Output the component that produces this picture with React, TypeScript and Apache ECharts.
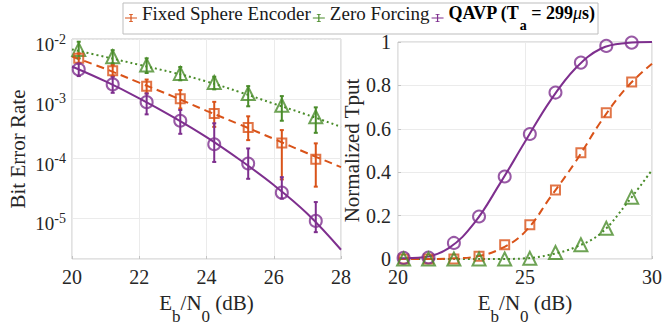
import React, { useEffect, useRef } from 'react';
import * as echarts from 'echarts';

const FONT = "'Liberation Serif', 'Times New Roman', serif";
const TXT = '#262626';
const C_FSE = '#D95319';
const C_ZF = '#4A8C2A';
const C_QAVP = '#7E2F8E';

const NAME_FSE = 'Fixed Sphere Encoder';
const NAME_ZF = 'Zero Forcing';
const NAME_QAVP = 'QAVP (Ta = 299μs)';

// ---- Left: Bit error rate ----
const berX = [20.2, 21.21, 22.22, 23.22, 24.23, 25.24, 26.24, 27.25];
const berZF = [6.7e-3, 5.06e-3, 3.66e-3, 2.66e-3, 1.88e-3, 1.23e-3, 7.8e-4, 5.0e-4];
const berZFLo = [4.75e-3, 3.9e-3, 2.7e-3, 2.04e-3, 1.44e-3, 7.5e-4, 4.3e-4, 2.7e-4];
const berZFHi = [9.0e-3, 6.5e-3, 4.75e-3, 3.4e-3, 2.34e-3, 1.63e-3, 1.11e-3, 7.2e-4];
const berFSE = [4.75e-3, 2.94e-3, 1.63e-3, 1.0e-3, 5.7e-4, 3.3e-4, 1.83e-4, 9.8e-5];
const berFSELo = [3.9e-3, 2.4e-3, 1.23e-3, 6.9e-4, 3.4e-4, 2.04e-4, 4.5e-5, 3.4e-5];
const berFSEHi = [5.75e-3, 3.67e-3, 2.1e-3, 1.4e-3, 8.9e-4, 5.1e-4, 3.0e-4, 1.8e-4];
const berQAVP = [3.1e-3, 1.74e-3, 8.8e-4, 4.3e-4, 1.74e-4, 8.3e-5, 2.7e-5, 9.1e-6];
const berQAVPLo = [2.4e-3, 1.26e-3, 5.5e-4, 2.6e-4, 8.8e-5, 4.6e-5, 2.15e-5, 5.9e-6];
const berQAVPHi = [3.9e-3, 2.34e-3, 1.23e-3, 6.5e-4, 3.9e-4, 1.48e-4, 4.9e-5, 1.88e-5];

const berFitX = [20, 21, 22, 23, 24, 25, 26, 27, 28];
const berFitZF = [6.7e-3, 5.0e-3, 3.7e-3, 2.75e-3, 1.95e-3, 1.29e-3, 8.3e-4, 5.4e-4, 3.4e-4];
const berFitFSE = [5.1e-3, 3.16e-3, 1.86e-3, 1.1e-3, 6.3e-4, 3.7e-4, 2.14e-4, 1.23e-4, 7.2e-5];
const berFitQAVP = [3.47e-3, 1.95e-3, 1.02e-3, 5.0e-4, 2.29e-4, 9.5e-5, 3.63e-5, 1.2e-5, 3.0e-6];

const berMin = 2.1e-6;
const berMax = 1e-2;

// ---- Right: normalized throughput ----
const tpX = [20.22, 21.2, 22.2, 23.19, 24.2, 25.19, 26.2, 27.2, 28.2, 29.2];
const tpQAVP = [0.005, 0.007, 0.074, 0.196, 0.38, 0.576, 0.767, 0.905, 0.982, 0.997];
const tpFSE = [0, 0, 0, 0.013, 0.066, 0.158, 0.318, 0.49, 0.674, 0.816];
const tpZF = [0, 0, 0, 0, 0, 0.003, 0.03, 0.066, 0.142, 0.285];

const tpFitX = [20, 21, 22, 23, 24, 25, 26, 27, 28, 29, 30];
const tpFitQAVP = [0.003, 0.008, 0.05, 0.165, 0.345, 0.54, 0.73, 0.88, 0.97, 0.995, 1.0];
const tpFitFSE = [0, 0, 0.002, 0.01, 0.045, 0.125, 0.285, 0.45, 0.635, 0.79, 0.9];
const tpFitZF = [0, 0, 0, 0, 0, 0.003, 0.02, 0.055, 0.12, 0.255, 0.41];

const zip = (xs: number[], ys: number[]) => xs.map((x, i) => [x, ys[i]]);
const zip3 = (xs: number[], a: number[], b: number[]) => xs.map((x, i) => [x, a[i], b[i]]);

const minorLogLines: number[] = [];
for (let e = -6; e <= -3; e++) {
  for (let k = 2; k <= 9; k++) {
    const v = k * Math.pow(10, e);
    if (v > berMin && v < berMax) minorLogLines.push(v);
  }
}

const ICON = 'path://M0,4.5H12V5.5H0Z M5.4,1H6.6V9H5.4Z M4,1H8V1.8H4Z M4,8.2H8V9H4Z';

function errorBar(color: string) {
  return (params: any, api: any) => {
    const x = api.value(0);
    const lo = api.value(1);
    const hi = api.value(2);
    const pLo = api.coord([x, lo]);
    const pHi = api.coord([x, hi]);
    const cap = 2;
    const style = { stroke: color, lineWidth: 2, fill: 'none' };
    return {
      type: 'group',
      children: [
        { type: 'line', shape: { x1: pLo[0], y1: pLo[1], x2: pHi[0], y2: pHi[1] }, style },
        { type: 'line', shape: { x1: pLo[0] - cap, y1: pLo[1], x2: pLo[0] + cap, y2: pLo[1] }, style },
        { type: 'line', shape: { x1: pHi[0] - cap, y1: pHi[1], x2: pHi[0] + cap, y2: pHi[1] }, style },
      ],
    };
  };
}

function buildOption(): any {
  const axisLineGray = '#c4c4c4';
  const gridGray = '#ebebeb';
  const numLabel = (margin: number) => ({
    margin,
    formatter: (v: number) => `{t|${v}}`,
    rich: { t: { fontSize: 20, fontFamily: FONT, color: TXT } },
  });
  const xName = '{m|E}{s|b}{m|/N}{s|0}{m| (dB)}';
  const xNameRich = {
    m: { fontSize: 21, lineHeight: 33, verticalAlign: 'top', fontFamily: FONT, color: TXT },
    s: { fontSize: 17, lineHeight: 17, verticalAlign: 'bottom', fontFamily: FONT, color: TXT },
  };
  const lineSeries = (name: string, xi: number, xs: number[], ys: number[], color: string, type: any, z: number) => ({
    type: 'line',
    name,
    xAxisIndex: xi,
    yAxisIndex: xi,
    data: zip(xs, ys),
    symbol: 'none',
    smooth: 0.4,
    itemStyle: { color },
    lineStyle: { color, width: 2, type },
    z,
    silent: true,
  });
  const markerSeries = (xi: number, xs: number[], ys: number[], color: string, symbol: string, size: any) => ({
    type: 'scatter',
    xAxisIndex: xi,
    yAxisIndex: xi,
    data: zip(xs, ys),
    symbol,
    symbolSize: size,
    itemStyle: { color: 'rgba(0,0,0,0)', borderColor: color, borderWidth: 2 },
    z: 6,
    silent: true,
  });
  const errSeries = (xs: number[], lo: number[], hi: number[], color: string) => ({
    type: 'custom',
    xAxisIndex: 0,
    yAxisIndex: 0,
    data: zip3(xs, lo, hi),
    encode: { x: 0, y: [1, 2] },
    renderItem: errorBar(color),
    itemStyle: { color },
    z: 5,
    silent: true,
  });

  return {
    animation: false,
    backgroundColor: '#ffffff',
    textStyle: { fontFamily: FONT },
    legend: {
      left: 123,
      top: 3,
      padding: [1, 3, 2, 2],
      itemGap: 2,
      itemWidth: 12,
      itemHeight: 10,
      borderColor: '#bdbdbd',
      borderWidth: 1,
      backgroundColor: '#ffffff',
      selectedMode: false,
      data: [
        { name: NAME_FSE, icon: ICON, itemStyle: { color: C_FSE } },
        { name: NAME_ZF, icon: ICON, itemStyle: { color: C_ZF } },
        { name: NAME_QAVP, icon: ICON, itemStyle: { color: C_QAVP } },
      ],
      formatter: (name: string) =>
        name === NAME_QAVP ? '{b|QAVP (T}{bs|a}{b| = 299}{i|μ}{b|s)}' : `{m|${name}}`,
      textStyle: {
        fontFamily: FONT,
        fontSize: 19,
        color: '#1a1a1a',
        rich: {
          m: { fontSize: 19, lineHeight: 28, verticalAlign: 'top', fontFamily: FONT, color: '#1a1a1a' },
          b: { fontSize: 18, lineHeight: 28, verticalAlign: 'top', fontFamily: FONT, fontWeight: 'bold', color: '#000' },
          bs: { fontSize: 14, lineHeight: 10, verticalAlign: 'bottom', fontFamily: FONT, fontWeight: 'bold', color: '#000' },
          i: { fontSize: 18, lineHeight: 28, verticalAlign: 'top', fontFamily: FONT, fontStyle: 'italic', color: '#000' },
        },
      },
    },
    grid: [
      { left: 72, top: 39, width: 269, height: 220, show: true, borderColor: axisLineGray, borderWidth: 1, backgroundColor: 'rgba(0,0,0,0)' },
      { left: 398, top: 42, width: 258, height: 217, show: true, borderColor: axisLineGray, borderWidth: 1, backgroundColor: 'rgba(0,0,0,0)' },
    ],
    xAxis: [
      {
        type: 'value', gridIndex: 0, min: 20, max: 28, interval: 2,
        axisLine: { show: false },
        axisTick: { show: true, inside: true, length: 3, lineStyle: { color: axisLineGray } },
        axisLabel: numLabel(8),
        splitLine: { show: true, lineStyle: { color: gridGray, width: 1 } },
        name: xName, nameLocation: 'middle', nameGap: 33,
        nameTextStyle: { rich: xNameRich },
      },
      {
        type: 'value', gridIndex: 1, min: 20, max: 30, interval: 5,
        axisLine: { show: false },
        axisTick: { show: true, inside: true, length: 3, lineStyle: { color: axisLineGray } },
        axisLabel: numLabel(8),
        splitLine: { show: true, lineStyle: { color: gridGray, width: 1 } },
        name: xName, nameLocation: 'middle', nameGap: 33,
        nameTextStyle: { rich: xNameRich },
      },
    ],
    yAxis: [
      {
        type: 'log', logBase: 10, gridIndex: 0, min: berMin, max: berMax,
        axisLine: { show: false },
        axisTick: { show: false },
        axisLabel: {
          margin: 6,
          formatter: (v: number) => {
            const e = Math.log10(v);
            const r = Math.round(e);
            if (Math.abs(e - r) > 1e-6) return '';
            return `{b|10}{s|${r}}`;
          },
          rich: {
            b: { fontSize: 19, lineHeight: 30, verticalAlign: 'bottom', fontFamily: FONT, color: TXT },
            s: { fontSize: 14, lineHeight: 14, verticalAlign: 'middle', fontFamily: FONT, color: TXT },
          },
        },
        splitLine: { show: true, lineStyle: { color: gridGray, width: 1 } },
        name: 'Bit Error Rate', nameLocation: 'middle', nameGap: 44,
        nameTextStyle: { fontFamily: FONT, fontSize: 21, color: TXT },
      },
      {
        type: 'value', gridIndex: 1, min: 0, max: 1, interval: 0.2,
        axisLine: { show: false },
        axisTick: { show: true, inside: true, length: 3, lineStyle: { color: axisLineGray } },
        axisLabel: numLabel(7),
        splitLine: { show: true, lineStyle: { color: gridGray, width: 1 } },
        name: 'Normalized Tput', nameLocation: 'middle', nameGap: 35,
        nameTextStyle: { fontFamily: FONT, fontSize: 21, color: TXT },
      },
    ],
    series: [
      // minor log grid lines (left)
      {
        type: 'line', xAxisIndex: 0, yAxisIndex: 0, data: zip(berFitX, berFitZF),
        symbol: 'none', lineStyle: { opacity: 0 }, silent: true, z: 1,
        markLine: {
          silent: true, symbol: 'none', label: { show: false },
          lineStyle: { color: '#e4e4e4', width: 1, type: [2, 2] },
          data: minorLogLines.map((v) => ({ yAxis: v })),
        },
      },
      lineSeries(NAME_ZF, 0, berFitX, berFitZF, C_ZF, [2, 3], 3),
      lineSeries(NAME_FSE, 0, berFitX, berFitFSE, C_FSE, [8, 5], 3),
      lineSeries(NAME_QAVP, 0, berFitX, berFitQAVP, C_QAVP, 'solid', 3),
      errSeries(berX, berZFLo, berZFHi, C_ZF),
      errSeries(berX, berFSELo, berFSEHi, C_FSE),
      errSeries(berX, berQAVPLo, berQAVPHi, C_QAVP),
      markerSeries(0, berX, berZF, C_ZF, 'triangle', [13, 13]),
      markerSeries(0, berX, berFSE, C_FSE, 'rect', 9),
      markerSeries(0, berX, berQAVP, C_QAVP, 'circle', 12),

      lineSeries('tp-zf', 1, tpFitX, tpFitZF, C_ZF, [2, 3], 3),
      lineSeries('tp-fse', 1, tpFitX, tpFitFSE, C_FSE, [8, 5], 3),
      lineSeries('tp-qavp', 1, tpFitX, tpFitQAVP, C_QAVP, 'solid', 3),
      markerSeries(1, tpX, tpFSE, C_FSE, 'rect', 9),
      markerSeries(1, tpX, tpQAVP, C_QAVP, 'circle', 12),
      markerSeries(1, tpX, tpZF, C_ZF, 'triangle', [13, 13]),
    ],
  };
}

export default function App() {
  const ref = useRef<HTMLDivElement>(null);
  useEffect(() => {
    if (!ref.current) return;
    const chart = echarts.init(ref.current, null, { renderer: 'svg' });
    chart.setOption(buildOption());
    return () => chart.dispose();
  }, []);
  return (
    <div
      ref={ref}
      style={{ position: 'fixed', left: 0, top: 0, width: 665, height: 331, background: '#fff' }}
    />
  );
}
